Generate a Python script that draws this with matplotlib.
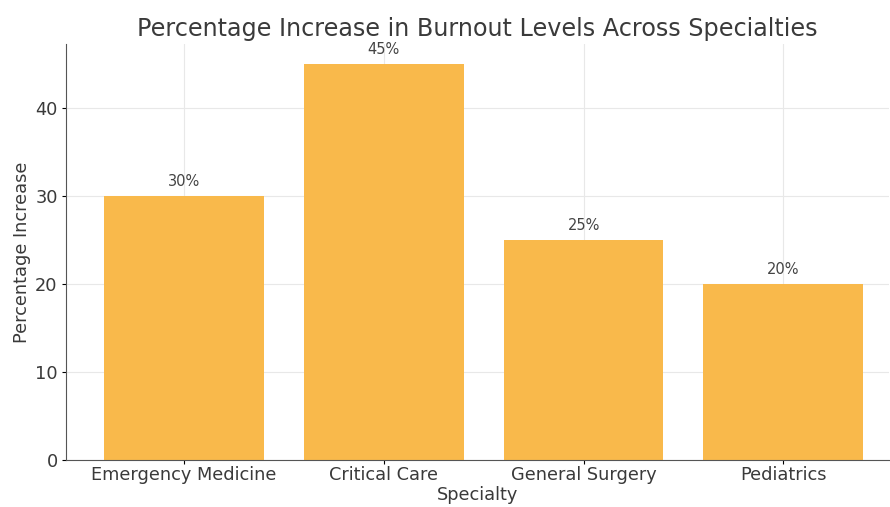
import matplotlib
matplotlib.use("Agg")
import matplotlib.pyplot as plt

plt.rcParams["font.family"] = ["DejaVu Sans"]

specialties = ["Emergency Medicine", "Critical Care", "General Surgery", "Pediatrics"]
increase = [30, 45, 25, 20]
yticks = [0, 10, 20, 30, 40]

fig = plt.figure(figsize=(8.9, 5.07), dpi=100)
ax = fig.add_axes([0.0742, 0.0927, 0.925, 0.8205])
x = list(range(len(specialties)))
bars = ax.bar(x, increase, width=0.8, color="#F9B94B", zorder=2)
for xi, v in zip(x, increase):
    ax.text(xi, v + 0.8, f"{v}%", ha="center", va="bottom", fontsize=10.5, color="#444444")

ax.set_xticks(x)
ax.set_xticklabels(specialties, fontsize=12.8, color="#3a3a3a")
ax.set_yticks(yticks)
ax.tick_params(axis="y", labelsize=12.8, labelcolor="#3a3a3a")
ax.tick_params(axis="x", length=3, pad=1)
ax.tick_params(axis="y", length=3, pad=3)
ax.set_xlim(-0.59, 3.53)
ax.set_ylim(0, 47.25)
ax.grid(True, color="#E8E8E8", linewidth=0.8, zorder=0)
ax.set_axisbelow(True)
for s in ["top", "right"]:
    ax.spines[s].set_visible(False)
ax.spines["left"].set_color("#555555")
ax.spines["bottom"].set_color("#555555")
ax.set_xlabel("Specialty", fontsize=12.8, color="#3a3a3a", labelpad=2)
ax.set_ylabel("Percentage Increase", fontsize=12.8, color="#3a3a3a", labelpad=3)
ax.set_title("Percentage Increase in Burnout Levels Across Specialties", fontsize=17.2, color="#3a3a3a", pad=6)

fig.savefig("out.png", dpi=100)
